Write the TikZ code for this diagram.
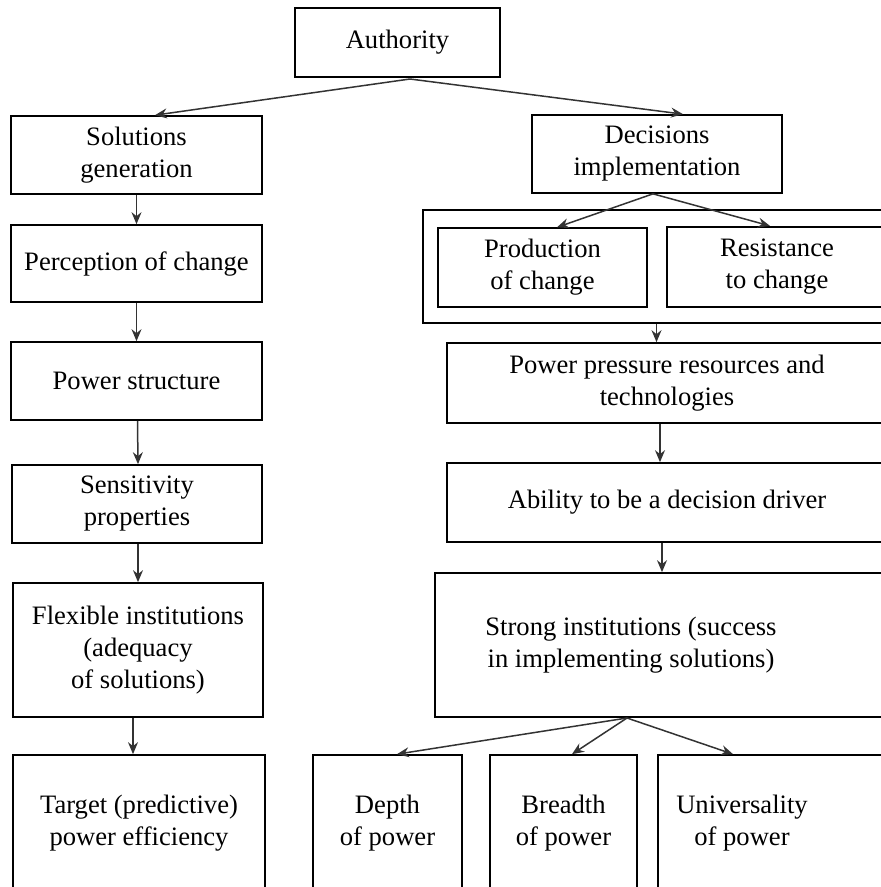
\documentclass[tikz,border=0pt]{standalone}
\usepackage{fontspec}
\setmainfont{Liberation Serif}
\usetikzlibrary{arrows.meta}

\begin{document}
\begin{tikzpicture}[x=1pt,y=-1pt,
        blk/.style={draw, line width=1.7pt, align=center, inner sep=0pt, font=\fontsize{26.6}{32}\selectfont},
        lbl/.style={align=center, inner sep=0pt, font=\fontsize{26.6}{32}\selectfont},
        arr/.style={draw=black!80, line width=1.5pt, -{Stealth[length=12pt,width=10pt,inset=4pt]}}]
        \useasboundingbox (0,0) rectangle (881,887);
        \clip (0,0) rectangle (881,887);

        \node[blk, line width=2.8pt, minimum width=205pt, minimum height=69pt] (auth) at (397.5,42.5) {Authority};
        \coordinate (afork) at (410,79);

        % left column
        \node[blk, minimum width=251pt, minimum height=78pt] (solgen) at (136.5,155) {Solutions\\generation};
        \node[blk, minimum width=251pt, minimum height=77pt] (percep) at (136.5,263.5) {Perception of change};
        \node[blk, minimum width=251pt, minimum height=78pt] (pstruct) at (136.5,381) {Power structure};
        \node[blk, minimum width=250pt, minimum height=78pt] (sens) at (137,504) {Sensitivity\\properties};
        \node[blk, minimum width=250pt, minimum height=134pt] (flex) at (138,650) {Flexible institutions\\(adequacy\\of solutions)};
        \node[blk, minimum width=252pt, minimum height=136pt] (target) at (139,823) {Target (predictive)\\power efficiency};

        % right column
        \node[blk, minimum width=250pt, minimum height=78pt] (dec) at (657,154) {Decisions\\implementation};
        \node[blk, line width=1.4pt, minimum width=467pt, minimum height=113pt] (outer) at (656.5,266.5) {};
        \node[blk, line width=1.4pt, minimum width=209pt, minimum height=79pt] (prod) at (542.5,267.5) {Production\\of change};
        \node[blk, line width=2.2pt, minimum width=220pt, minimum height=80pt] (resist) at (777,267) {Resistance\\to change};
        \node[blk, minimum width=440pt, minimum height=80pt] (ppress) at (667,383) {Power pressure resources and\\technologies};
        \node[blk, minimum width=440pt, minimum height=79pt] (ability) at (667,502.5) {Ability to be a decision driver};
        \node[blk, minimum width=450pt, minimum height=144pt] (strong) at (660,645) {};
        \node[lbl] (strongtxt) at (631,645) {Strong institutions (success\\in implementing solutions)};
        \coordinate (sfork) at (627,718);

        % bottom row
        \node[blk, minimum width=149pt, minimum height=136pt] (depth) at (387.5,823) {Depth\\of power};
        \node[blk, minimum width=147pt, minimum height=136pt] (breadth) at (563.5,823) {Breadth\\of power};
        \node[blk, minimum width=232pt, minimum height=136pt] (univ) at (774,823) {};
        \node[lbl] (univtxt) at (742,823) {Universality\\of power};

        \draw[arr] (afork) -- ([xshift=18.5pt]solgen.north);
        \draw[arr] (afork) -- ([xshift=26pt]dec.north);

        \draw[arr] (solgen.south) -- (percep.north);
        \draw[arr] (percep.south) -- (pstruct.north);
        \draw[arr] ([xshift=1pt]pstruct.south) -- ([xshift=1pt]sens.north);
        \draw[arr] ([xshift=1pt]sens.south) -- ([xshift=1pt]sens.south |- flex.north);
        \draw[arr] ([xshift=-5pt]flex.south) -- ([xshift=-5pt]flex.south |- target.north);

        \draw[arr] ([xshift=-4pt]dec.south) -- ([xshift=14.5pt]prod.north);
        \draw[arr] ([xshift=-4pt]dec.south) -- ([xshift=-7pt]resist.north);
        \draw[arr] (outer.south) -- (outer.south |- ppress.north);
        \draw[arr] ([xshift=-7pt]ppress.south) -- ([xshift=-7pt]ability.north);
        \draw[arr] ([xshift=-5pt]ability.south) -- ([xshift=-5pt]ability.south |- strong.north);

        \draw[arr] (sfork) -- ([xshift=9.5pt]depth.north);
        \draw[arr] (sfork) -- ([xshift=8.5pt]breadth.north);
        \draw[arr] (sfork) -- ([xshift=-41pt]univ.north);
\end{tikzpicture}
\end{document}
